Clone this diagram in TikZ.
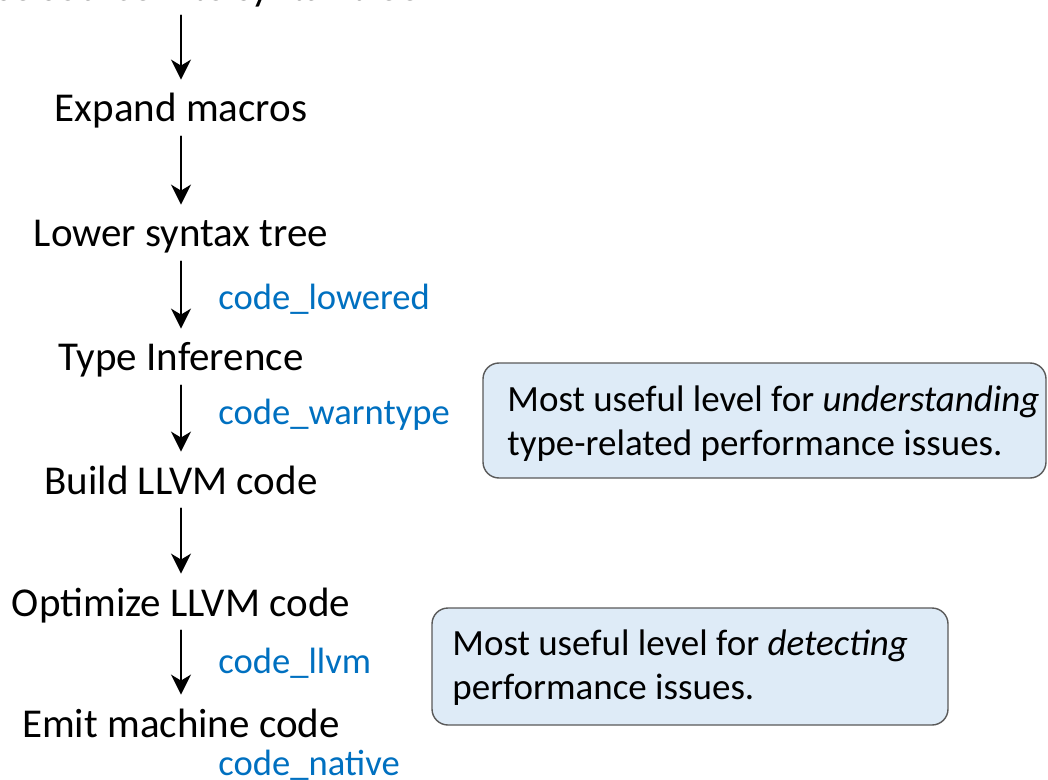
\documentclass[tikz,border=0pt]{standalone}
\usepackage{fontspec}
\setmainfont{Carlito}
\usetikzlibrary{arrows.meta}
\definecolor{codeblue}{HTML}{0070C0}
\definecolor{notefill}{HTML}{DEEBF7}
\definecolor{noteline}{HTML}{595959}
\begin{document}
\begin{tikzpicture}[x=.5pt,y=-.5pt,>={Stealth[length=10pt,width=10pt,inset=3pt]},line join=round,line cap=round,
stage/.style={font=\fontsize{20.5}{24}\selectfont,text height=14pt,text depth=5pt,inner sep=0pt,anchor=base},
fn/.style={font=\fontsize{18.3}{22}\selectfont,text=codeblue,inner sep=0pt,anchor=base west},
notebox/.style={draw=noteline,fill=notefill,line width=.7pt,rounded corners=8pt},
notetext/.style={font=\fontsize{18.5}{21.8}\selectfont,align=left,inner sep=0pt,anchor=base west}]
\useasboundingbox (0,0) rectangle (1048,780);
\clip (0,0) rectangle (1048,780);
% compiler stages
\path
(181,1) node[stage] (parse) {Parse source into syntax tree}
(181,122) node[stage] (expand) {Expand macros}
(181,247) node[stage] (lower) {Lower syntax tree}
(181,371) node[stage] (infer) {Type Inference}
(181,494) node[stage] (build) {Build LLVM code}
(181,616) node[stage] (optim) {Optimize LLVM code}
(181,737) node[stage] (emit) {Emit machine code}
;
\foreach \a/\b in {parse/expand,expand/lower,lower/infer,infer/build,build/optim,optim/emit}
\draw[->,line width=1pt,shorten <=2pt,shorten >=7pt] (\a)--(\b);
% inspection macros
\path
(218,310) node[fn] (lowered) {code\_lowered}
(218,424) node[fn] (warntype) {code\_warntype}
(218,673) node[fn] (llvm) {code\_llvm}
(218,775) node[fn] (native) {code\_native}
;
% notes (base = last line)
\draw[notebox] (483,363) rectangle (1046,478);
\node[notetext] (warnnote) at (507,455) {Most useful level for \emph{understanding}\\type-related performance issues.};
\draw[notebox] (432,608) rectangle (948,725);
\node[notetext] (llvmnote) at (452,699) {Most useful level for \emph{detecting}\\performance issues.};
\end{tikzpicture}
\end{document}
